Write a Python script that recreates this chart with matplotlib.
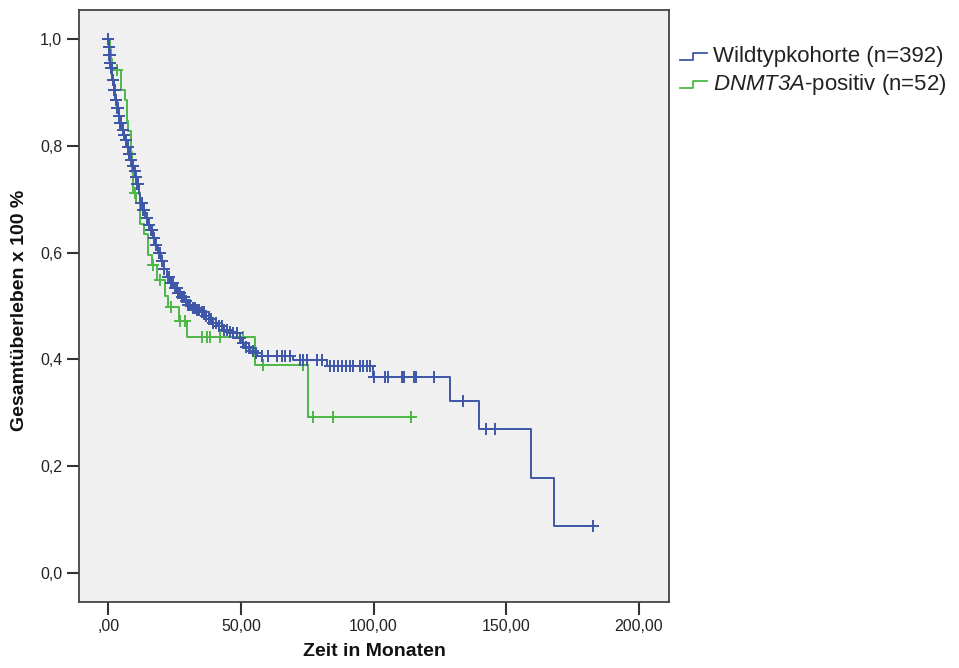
import matplotlib
matplotlib.use("Agg")
import matplotlib.pyplot as plt
from matplotlib.lines import Line2D
from matplotlib.legend_handler import HandlerBase
import numpy as np

# ---------------- data ----------------
# Wildtypkohorte: step times and survival after each step
wt_times = [0.0, 0.2, 0.4, 0.6, 0.9, 1.5, 2.0, 2.6, 3.2, 3.9, 4.5, 5.2, 5.8, 6.4, 7.0,
            7.7, 8.3, 9.0, 9.6, 10.2, 10.8, 11.5, 12.1, 13.0, 14.0, 15.0, 15.8, 16.8,
            17.8, 18.8, 19.9, 21.0, 22.2, 23.5, 24.8, 26.0, 27.3, 28.6, 29.8, 31.5,
            33.0, 34.7, 36.2, 37.8, 39.5, 41.5, 43.5, 45.3, 47.1, 48.5, 50.0, 51.2,
            52.4, 53.5, 54.6, 56.1, 69.7, 82.5, 99.8, 128.8, 139.7, 159.3, 168.0]
wt_surv = [1.0, 0.985, 0.970, 0.955, 0.945, 0.923, 0.905, 0.886, 0.870, 0.855, 0.843,
           0.830, 0.820, 0.810, 0.798, 0.785, 0.773, 0.762, 0.752, 0.742, 0.728, 0.710,
           0.693, 0.680, 0.665, 0.652, 0.642, 0.628, 0.614, 0.600, 0.585, 0.570, 0.554,
           0.543, 0.533, 0.524, 0.516, 0.510, 0.502, 0.496, 0.492, 0.489, 0.482, 0.475,
           0.468, 0.462, 0.456, 0.452, 0.449, 0.440, 0.430, 0.424, 0.421, 0.416, 0.412,
           0.406, 0.399, 0.388, 0.367, 0.322, 0.270, 0.178, 0.088]
wt_end = 182.7
wt_censor = [0.0, 0.05, 0.1, 0.2, 0.3, 0.4, 0.5, 0.7, 0.8, 1.0, 1.2, 1.4, 1.7, 2.0, 2.3,
             2.5, 2.8, 3.0, 3.5, 3.8, 4.2, 4.6, 4.8, 5.4, 6.0, 6.6, 7.3, 7.9, 8.2, 8.6,
             9.3, 10.0, 10.6, 11.0, 11.3, 12.4, 12.8, 13.2, 13.6, 14.5, 15.3, 16.2,
             16.5, 17.1, 18.0, 19.0, 19.5, 20.1, 21.2, 22.5, 23.0, 23.6, 24.4, 25.3,
             25.8, 26.2, 27.0, 27.8, 28.5, 29.2, 30.1, 31.0, 31.8, 32.6, 33.4, 34.3,
             35.2, 36.0, 36.9, 37.8, 38.7, 39.6, 40.5, 41.6, 42.7, 43.8, 44.9, 46.0,
             47.2, 48.4, 49.6, 50.8, 52.0, 53.2, 54.5, 55.7, 58.0, 60.3, 63.7, 65.5,
             66.7, 68.6, 72.3, 73.4, 75.0, 78.7, 80.6, 83.6, 85.0, 86.5, 88.0, 89.5,
             91.0, 92.3, 95.0, 96.0, 97.6, 98.7, 100.3, 104.3, 105.5, 110.7, 111.5,
             115.3, 116.0, 122.8, 133.7, 142.4, 145.8, 182.7]

# DNMT3A-positiv
dn_times = [0.0, 0.5, 1.0, 1.5, 5.0, 6.5, 7.0, 7.5, 8.5, 9.0, 9.5, 10.5, 12.0, 13.5,
            15.0, 16.5, 18.5, 21.5, 22.5, 26.5, 29.8, 55.4, 75.3]
dn_surv = [1.0, 0.981, 0.962, 0.942, 0.904, 0.885, 0.846, 0.827, 0.789, 0.750, 0.712,
           0.692, 0.654, 0.635, 0.596, 0.577, 0.548, 0.519, 0.498, 0.472, 0.442, 0.390,
           0.292]
dn_end = 114.1
dn_censor = [3.5, 10.0, 17.0, 19.6, 23.5, 27.0, 29.0, 35.4, 37.3, 38.4, 42.2, 50.8,
             58.4, 73.4, 77.2, 84.7, 114.1]

labels = ["Wildtypkohorte (n=392)", r"$DNMT3A$-positiv (n=52)"]
x_ticks = [0, 50, 100, 150, 200]
x_ticklabels = [",00", "50,00", "100,00", "150,00", "200,00"]
y_ticks = [0.0, 0.2, 0.4, 0.6, 0.8, 1.0]
y_ticklabels = ["0,0", "0,2", "0,4", "0,6", "0,8", "1,0"]

BLUE = "#3E57A8"
GREEN = "#4DB847"

plt.rcParams['font.family'] = ['Liberation Sans', 'DejaVu Sans']
# mathtext is only used for the italic gene name (digits included)
plt.rcParams['mathtext.fontset'] = 'custom'
plt.rcParams['mathtext.it'] = 'Liberation Sans:italic'
plt.rcParams['mathtext.rm'] = 'Liberation Sans:italic'

fig = plt.figure(figsize=(9.59, 6.68), dpi=100)
ax = fig.add_axes([79/959, 1-602/668, (669-79)/959, (602-10)/668])
ax.set_facecolor("#F0F0F0")


def km_steps(times, surv, end):
    xs = list(times) + [end]
    ys = list(surv) + [surv[-1]]
    return xs, ys


def surv_at(times, surv, t):
    idx = np.searchsorted(np.array(times), t, side='right') - 1
    return np.array(surv)[np.clip(idx, 0, None)]


for times, surv, end, cens, col, z in [
        (dn_times, dn_surv, dn_end, dn_censor, GREEN, 2),
        (wt_times, wt_surv, wt_end, wt_censor, BLUE, 3)]:
    xs, ys = km_steps(times, surv, end)
    ax.step(xs, ys, where='post', color=col, lw=1.4, zorder=z)
    cy = surv_at(times, surv, np.array(cens))
    ax.plot(cens, cy, ls='none', marker='+', ms=9, mew=1.4, color=col, zorder=z)

ax.set_xlim(-11, 211.3)
ax.set_ylim(-0.054, 1.054)
ax.set_xticks(x_ticks)
ax.set_xticklabels(x_ticklabels)
ax.set_yticks(y_ticks)
ax.set_yticklabels(y_ticklabels)
ax.tick_params(axis='both', direction='out', length=9, width=1.5, color="#333333",
               labelsize=11.5, labelcolor="#222222", pad=3)
for sp in ax.spines.values():
    sp.set_color("#444444")
    sp.set_linewidth(1.3)

fig.text(20/959, 1-310/668, "Gesamtüberleben x 100 %", rotation=90, fontsize=14,
         fontweight='bold', ha='center', va='center', color="#111111")
fig.text(374/959, 1-651/668, "Zeit in Monaten", fontsize=14, fontweight='bold',
         ha='center', va='center', color="#111111")


class HandlerStepLine(HandlerBase):
    def create_artists(self, legend, orig_handle, xdescent, ydescent, width, height,
                       fontsize, trans):
        x0, y0 = -xdescent, -ydescent
        xs = [x0, x0 + width * 0.5, x0 + width * 0.5, x0 + width]
        ys = [y0 + height * 0.1, y0 + height * 0.1, y0 + height * 0.55, y0 + height * 0.55]
        ln = Line2D(xs, ys, color=orig_handle.get_color(), lw=1.3)
        ln.set_transform(trans)
        return [ln]


handles = [Line2D([], [], color=BLUE), Line2D([], [], color=GREEN)]
leg = fig.legend(handles, labels, loc='upper left', bbox_to_anchor=(680/959, 1-46/668),
                 frameon=False, fontsize=16, handlelength=1.2, handletextpad=0.3,
                 labelspacing=0.22, borderaxespad=0, borderpad=0,
                 handler_map={Line2D: HandlerStepLine()})
for t in leg.get_texts():
    t.set_color("#222222")

fig.savefig("out.png", dpi=100)
